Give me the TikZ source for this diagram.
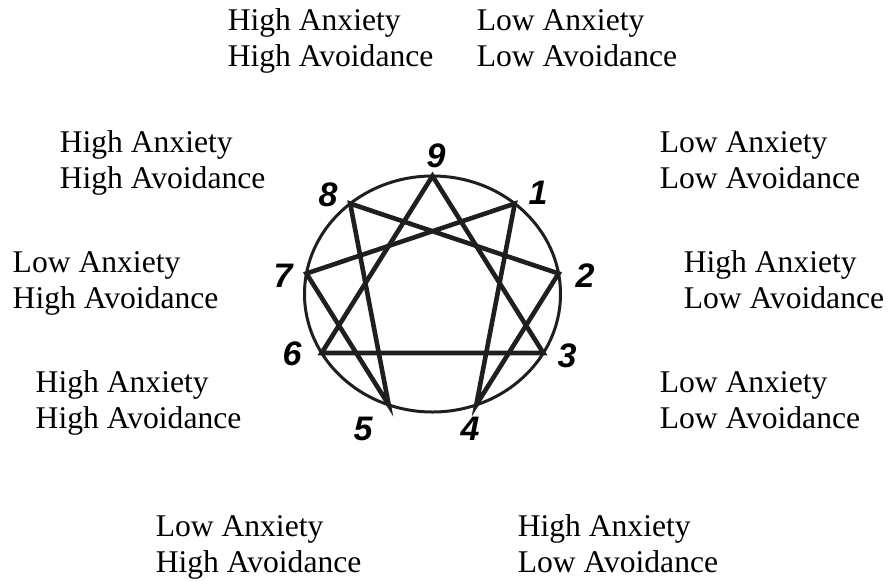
\documentclass[tikz,border=0pt]{standalone}
\usepackage{fontspec}
\setmainfont{Liberation Serif}
\newfontfamily\numfont{Liberation Sans}
\tikzset{every picture/.style={line width=0.75pt}}

\begin{document}
\begin{tikzpicture}[x=0.5pt, y=-0.5pt, font=\fontsize{15.8}{18}\selectfont,
        desc/.style={align=left, anchor=base west, inner sep=0pt},
        num/.style={font=\numfont\bfseries\itshape\fontsize{17}{17}\selectfont, inner sep=0pt},
        ring/.style={line width=1.5pt, draw=black!88},
        star/.style={line width=2.3pt, draw=black!88}]
        \useasboundingbox (0,0) rectangle (890,580);
        % points of the figure, 9 on top, then clockwise
        \foreach \n in {0,...,8}
            \coordinate (p\n) at ({432.5+128*cos(90-40*\n)}, {294-118*sin(90-40*\n)});
        \draw[ring] (432.5,294) ellipse [x radius=128, y radius=118];
        \draw[star] (p0) -- (p3) -- (p6) -- cycle;
        \draw[star] (p1) -- (p4) -- (p2) -- (p8) -- (p5) -- (p7) -- cycle;
        % numbers
        \foreach \n/\x/\y in {9/436/156, 1/538/193, 2/585/276, 3/567/356, 4/470/429,
                              5/363/429, 6/292/354, 7/283/276, 8/328/195}
            \node[num] (n\n) at (\x,\y) {\n};
        % labels round the figure (placed at the baseline of their last line)
        \node[desc] (top-hh) at (227,66) {High Anxiety\\High Avoidance};
        \node[desc] (top-ll) at (476,66) {Low Anxiety\\Low Avoidance};
        \node[desc] (left-hh) at (59,188) {High Anxiety\\High Avoidance};
        \node[desc] (right-ll) at (659,188) {Low Anxiety\\Low Avoidance};
        \node[desc] (left-lh) at (12,308) {Low Anxiety\\High Avoidance};
        \node[desc] (right-hl) at (683,308) {High Anxiety\\Low Avoidance};
        \node[desc] (low-hh) at (35,428) {High Anxiety\\High Avoidance};
        \node[desc] (low-ll) at (659,428) {Low Anxiety\\Low Avoidance};
        \node[desc] (bot-lh) at (155,572) {Low Anxiety\\High Avoidance};
        \node[desc] (bot-hl) at (517,572) {High Anxiety\\Low Avoidance};
    \end{tikzpicture}
\end{document}
